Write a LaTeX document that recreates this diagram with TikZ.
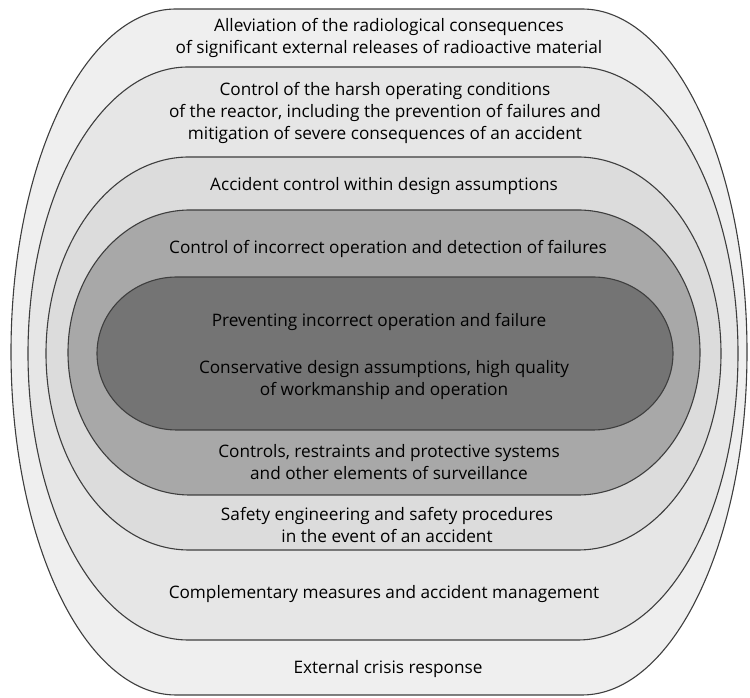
\documentclass[tikz,border=0pt]{standalone}
\usepackage{fontspec}
\setmainfont{Open Sans}
\usepackage{tikz}
\usetikzlibrary{positioning}
\usepackage{color}
\definecolor{layA}{HTML}{EFEFEF}
\definecolor{layB}{HTML}{E6E6E6}
\definecolor{layC}{HTML}{DCDCDC}
\definecolor{layD}{HTML}{A8A8A8}
\definecolor{layE}{HTML}{747474}
\definecolor{rim}{HTML}{3E3E3E}

\begin{document}
\begin{tikzpicture}[x=1pt,y=1pt,
    layer/.style={draw=rim, line width=1.1pt},
    lbl/.style={align=center, font=\fontsize{17.2}{21.6}\selectfont, inner sep=0pt}]
   \useasboundingbox (0,0) rectangle (750,698);

   % nested layers, outside in
   \draw[layer, fill=layA] (176,689) -- (582,689)
      arc[start angle=90, end angle=-90, x radius=165pt, y radius=343pt]
      -- (176,3) arc[start angle=270, end angle=90, x radius=165pt, y radius=343pt] -- cycle;
   \draw[layer, fill=layB] (188,631) -- (578,631)
      arc[start angle=90, end angle=-90, x radius=160pt, y radius=286.5pt]
      -- (188,58) arc[start angle=270, end angle=90, x radius=160pt, y radius=286.5pt] -- cycle;
   \draw[layer, fill=layC] (189,541) -- (578,541)
      arc[start angle=90, end angle=-90, x radius=143pt, y radius=196.5pt]
      -- (189,148) arc[start angle=270, end angle=90, x radius=143pt, y radius=196.5pt] -- cycle;
   \draw[layer, fill=layD] (190,488) -- (578,488)
      arc[start angle=90, end angle=-90, x radius=122pt, y radius=142.5pt]
      -- (190,203) arc[start angle=270, end angle=90, x radius=122pt, y radius=142.5pt] -- cycle;
   \draw[layer, fill=layE] (177,421) -- (593,421)
      arc[start angle=90, end angle=-90, x radius=80pt, y radius=76.5pt]
      -- (177,268) arc[start angle=270, end angle=90, x radius=80pt, y radius=76.5pt] -- cycle;

   \node[lbl] (alleviation) at (389,660) {Alleviation of the radiological consequences\\of significant external releases of radioactive material};
   \node[lbl] (harsh) at (385,585) {Control of the harsh operating conditions\\of the reactor, including the prevention of failures and\\mitigation of severe consequences of an accident};
   \node[lbl] (accident) at (384,512) {Accident control within design assumptions};
   \node[lbl] (incorrect) at (388,449) {Control of incorrect operation and detection of failures};
   \node[lbl] (preventing) at (379,376) {Preventing incorrect operation and failure};
   \node[lbl] (conservative) at (384,318) {Conservative design assumptions, high quality\\of workmanship and operation};
   \node[lbl] (controls) at (389,236) {Controls, restraints and protective systems\\and other elements of surveillance};
   \node[lbl] (safety) at (387,173) {Safety engineering and safety procedures\\in the event of an accident};
   \node[lbl] (complementary) at (384,104) {Complementary measures and accident management};
   \node[lbl] (crisis) at (388,29) {External crisis response};
\end{tikzpicture}
\end{document}
